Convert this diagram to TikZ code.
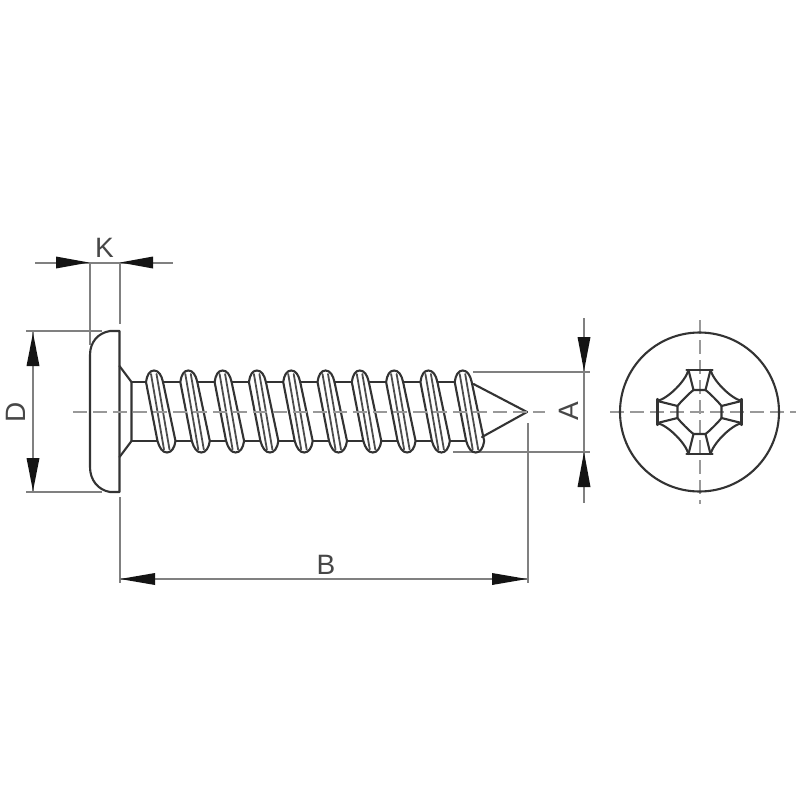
\documentclass[tikz,border=0pt]{standalone}
\usepackage{fontspec}
\setmainfont{Liberation Sans}
\tikzset{
  part/.style={draw=black!80,line width=2.1pt,line join=round,line cap=round},
  hatch/.style={draw=black!70,line width=1.8pt,line cap=round},
  dimline/.style={draw=black!50,line width=2pt},
  centreline/.style={draw=black!40,line width=2pt,dash pattern=on 14pt off 6pt},
  dimtip/.style={fill=black!92,draw=none},
  dimlabel/.style={font=\fontsize{28}{28}\selectfont,text=black!72,inner sep=0pt}
}
\newcommand{\tipH}[3]{\fill[dimtip] (#1,#3) -- (#2,#3-6) -- (#2,#3+6) -- cycle;}
\newcommand{\tipV}[3]{\fill[dimtip] (#3,#1) -- (#3-6.5,#2) -- (#3+6.5,#2) -- cycle;}
\begin{document}
\begin{tikzpicture}[x=1pt,y=-1pt]
\useasboundingbox (0,0) rectangle (800,800);
\fill[white] (0,0) rectangle (800,800);
% extension and dimension lines
\draw[dimline] (35,262.5) -- (173,262.5);
\draw[dimline] (90,262.5) -- (90,345);
\draw[dimline] (119.5,262.5) -- (119.5,324);
\draw[dimline] (33,331) -- (33,492);
\draw[dimline] (26,331) -- (102,331);
\draw[dimline] (26,492) -- (102,492);
\draw[dimline] (119.5,497) -- (119.5,583);
\draw[dimline] (528,423) -- (528,583);
\draw[dimline] (119.5,579) -- (528,579);
\draw[dimline] (584,318) -- (584,503);
\draw[dimline] (473,371.5) -- (590,371.5);
\draw[dimline] (453,452) -- (590,452);
% arrow tips
\tipH{89}{56}{262.5}
\tipH{120}{153}{262.5}
\tipV{333}{366}{33}
\tipV{491}{458}{33}
\tipH{120}{155}{579}
\tipH{527}{492}{579}
\tipV{371}{337}{584}
\tipV{452}{487}{584}
% labels
\node[dimlabel] (K) at (104.5,248) {K};
\node[dimlabel,rotate=90] (D) at (16,412) {D};
\node[dimlabel,rotate=90] (A) at (569,411) {A};
\node[dimlabel] (B) at (326,565) {B};
% head and neck
\draw[part] (119.5,331) -- (110,331) .. controls (98,333) and (90,342) .. (90,355)
  -- (90,467) .. controls (90,480) and (98,490) .. (110,492) -- (119.5,492) -- cycle;
\draw[part] (119.5,366) -- (131.5,382) -- (131.5,441) -- (119.5,457);
\draw[part] (131.5,382) -- (146,382);
\draw[part] (131.5,441) -- (157,441);
% threads
\foreach \i in {0,...,9}{
  \pgfmathsetmacro{\xx}{153.5+34.3*\i}
  \begin{scope}[xshift=\xx pt]
    \filldraw[part,fill=white] (-7.5,382) .. controls (-6.5,375) and (-4,370.5) .. (0.5,370.5)
      .. controls (5,370.5) and (8,375) .. (9.5,382) -- (22,441)
      .. controls (21,448) and (18,452.5) .. (13.5,452.5)
      .. controls (9,452.5) and (6,448) .. (4,441) -- cycle;
    \draw[hatch] (-2.5,374) -- (10.5,449.5);
    \draw[hatch] (3,374) -- (16,449.5);
  \end{scope}
}
\foreach \i in {0,...,8}{
  \pgfmathsetmacro{\xx}{153.5+34.3*\i}
  \begin{scope}[xshift=\xx pt]
    \draw[part] (9.5,382) -- (26.8,382);
    \draw[part] (22,441) -- (38.3,441);
  \end{scope}
}
% point
\draw[part] (473.5,384) -- (527,412) -- (482,437);
% centre lines
\draw[centreline] (73,411.5) -- (545,411.5);
\draw[centreline] (610,412) -- (796,412);
\draw[centreline] (699.5,320) -- (699.5,504);
% cross recess, end view
\draw[part] (699.5,412) circle[radius=79.5];
\begin{scope}[xshift=699.5pt,yshift=-412pt]
  \foreach \a in {0,90,180,270}{
    \begin{scope}[rotate=\a]
      \draw[part] (-13,-42) -- (13,-42);
      \draw[part] (-11,-42) -- (-6,-22) -- (6,-22) -- (11,-42);
      \draw[part] (11,-42) .. controls (14,-31) and (31,-14) .. (42,-11);
      \draw[part] (6,-22) .. controls (10,-19) and (19,-10) .. (22,-6);
    \end{scope}
  }
\end{scope}
\end{tikzpicture}
\end{document}
